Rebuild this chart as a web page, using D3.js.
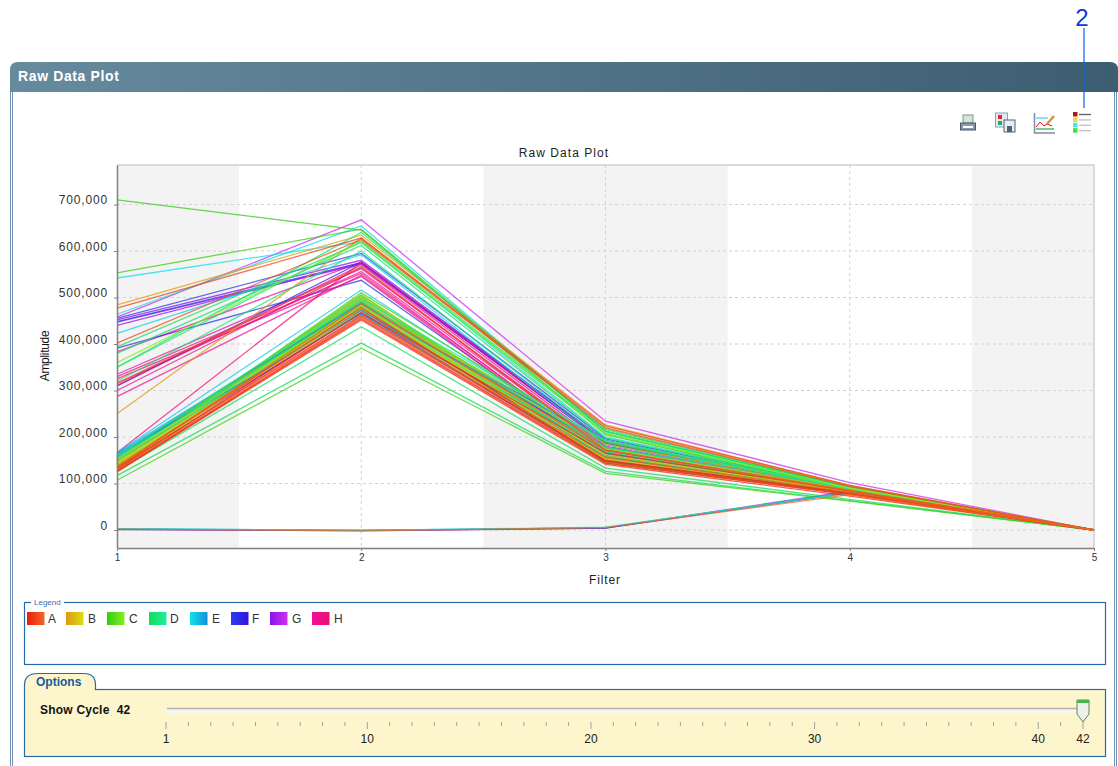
<!DOCTYPE html>
<html>
<head>
<meta charset="utf-8">
<script src="https://cdn.jsdelivr.net/npm/d3@7"></script>
<style>
  body { margin: 0; background: #fff; }
  svg { display: block; }
  text { font-family: "Liberation Sans", Arial, sans-serif; }
</style>
</head>
<body>
<div id="chart"></div>
<script>
// Amplitude per well, in thousands. One line per well: filters 1 to 5
const filters = [1, 2, 3, 4, 5];
const yTicks = [0, 100000, 200000, 300000, 400000, 500000, 600000, 700000];
const cycleTicks = [1, 10, 20, 30, 40, 42];
const cycleCount = 42;

const wellsA = [
  [133,462,150,80,0],[128,455,144,76,0],[126,452,141,73,0],[131,468,166,84,0],
  [136,478,148,78,0],[125,458,146,77,-1],[477,628,224,96,0],[402,625,220,94,0],
  [316,566,172,84,0],[129,460,156,81,0],[134,486,172,86,0],[2,-2,5,76,0]
];
const wellsB = [
  [250,628,218,93,0],[484,634,226,96,0],[140,505,158,85,0],[143,500,150,81,0],
  [137,496,178,88,0],[146,492,146,79,0],[134,488,168,86,0],[148,486,184,90,0],
  [141,482,154,83,0],[152,478,174,87,0],[136,476,162,84,0],[145,470,152,81,0]
];
const wellsC = [
  [710,645,205,88,0],[553,647,212,92,0],[107,391,122,62,0],[142,510,188,91,0],
  [147,506,164,85,0],[150,502,156,83,0],[138,498,176,87,0],[155,494,148,80,0],
  [144,488,192,90,0],[132,480,144,78,0],[152,484,160,84,0],[360,620,208,90,0]
];
const wellsD = [
  [117,402,126,63,0],[126,437,133,66,0],[394,618,208,90,0],[380,612,198,90,0],
  [350,640,216,93,0],[350,622,212,91,0],[320,600,190,87,0],[150,490,178,85,0],
  [156,484,152,81,0],[145,478,168,84,0],[160,496,192,88,0],[3,-1,6,80,0]
];
const wellsE = [
  [542,620,200,90,0],[464,654,212,92,0],[423,592,184,85,0],[166,516,176,85,0],
  [163,478,168,83,0],[160,472,152,81,0],[158,468,178,85,0],[155,482,158,82,0],
  [150,476,192,88,0],[165,488,164,84,0],[162,465,148,80,0],[3,-1,5,82,0]
];
const wellsF = [
  [455,595,196,88,0],[448,575,188,86,0],[391,537,166,80,0],[310,576,192,89,0],
  [150,475,172,84,0],[146,470,150,81,0],[155,480,160,83,0],[142,466,164,82,0],
  [158,486,176,85,0],[152,472,156,82,0],[160,490,184,87,0],[1,-1,4,80,0]
];
const wellsG = [
  [452,580,192,86,0],[447,572,188,85,0],[440,575,186,84,0],[150,488,174,85,0],
  [143,476,154,82,0],[148,482,180,86,0],[154,478,164,83,0],[139,470,150,80,0],
  [156,492,170,84,0],[147,474,160,82,0],[458,667,234,102,0],[2,-2,4,84,0]
];
const wellsH = [
  [383,576,186,86,0],[335,562,176,85,0],[315,556,172,84,0],[287,548,166,83,0],
  [310,570,180,85,0],[330,552,164,82,0],[325,545,160,81,0],[166,576,188,86,0],
  [300,565,170,84,0],[145,474,162,83,0],[150,480,156,82,0],[138,468,148,80,0]
];

const rowNames = ['A', 'B', 'C', 'D', 'E', 'F', 'G', 'H'];
const rowWells = [wellsA, wellsB, wellsC, wellsD, wellsE, wellsF, wellsG, wellsH];
// first and last shade of every row, the wells fade from one to the other
const rowStart = ['#ee1a10', '#dd9a12', '#30cc10', '#10dd55', '#12e0e8', '#2a3cf0', '#8a12ee', '#ee10a0'];
const rowEnd   = ['#ee6a22', '#dcdc14', '#88ee22', '#20eea0', '#1290dd', '#3414dc', '#d030ee', '#ee1068'];
// rows drawn together, later groups lie over earlier ones
const drawGroups = [[7, 6, 5], [4, 3, 2, 1], [0]];

const width = 1118, height = 766;
const margin = { top: 165, right: 24, bottom: 218, left: 117 };
const chartWidth = width - margin.left - margin.right;
const chartHeight = height - margin.top - margin.bottom;

const svg = d3.select("#chart").append("svg")
  .attr("width", width)
  .attr("height", height);

const defs = svg.append("defs");

function hGradient(id, from, to) {
  const g = defs.append("linearGradient").attr("id", id);
  g.append("stop").attr("offset", "0%").attr("stop-color", from);
  g.append("stop").attr("offset", "100%").attr("stop-color", to);
}

// the reference is a slightly soft screenshot
defs.append("filter").attr("id", "soft")
  .attr("filterUnits", "userSpaceOnUse")
  .attr("x", -10).attr("y", -10).attr("width", 1000).attr("height", 400)
  .append("feGaussianBlur").attr("stdDeviation", 0.3);

// ---- window frame ----
hGradient("headerFill", "#668a9e", "#3d5d71");
svg.append("path")
  .attr("d", "M10,92 V70 Q10,62 18,62 H1110 Q1118,62 1118,70 V92 Z")
  .attr("fill", "url(#headerFill)");
svg.append("text")
  .attr("x", 18).attr("y", 81)
  .attr("fill", "#fff")
  .attr("font-size", 14).attr("font-weight", "bold")
  .attr("letter-spacing", 0.62)
  .text("Raw Data Plot");

[10.5, 12.5, 1114.5, 1116.5].forEach(x => {
  svg.append("line")
    .attr("x1", x).attr("x2", x)
    .attr("y1", 92).attr("y2", height)
    .attr("stroke", "#6f8fb0");
});

// callout
svg.append("text")
  .attr("x", 1082).attr("y", 26)
  .attr("text-anchor", "middle")
  .attr("fill", "#1238d8")
  .attr("font-size", 24)
  .text("2");
svg.append("line")
  .attr("x1", 1084).attr("x2", 1084)
  .attr("y1", 28).attr("y2", 108)
  .attr("stroke", "#0a60e8").attr("stroke-width", 1.2);

// ---- toolbar icons ----
const printIcon = svg.append("g").attr("transform", "translate(960,114)");
printIcon.append("rect").attr("x", 3).attr("y", 1).attr("width", 10).attr("height", 8).attr("fill", "#d4e4d8").attr("stroke", "#7c9a90");
printIcon.append("rect").attr("x", 0.5).attr("y", 9).attr("width", 15).attr("height", 7).attr("fill", "#8c98ac").attr("stroke", "#4a5670");
printIcon.append("rect").attr("x", 3).attr("y", 12).attr("width", 10).attr("height", 2).attr("fill", "#fff");

const saveIcon = svg.append("g").attr("transform", "translate(995,112)");
saveIcon.append("rect").attr("x", 0.5).attr("y", 1).attr("width", 12).attr("height", 14).attr("fill", "#dfe8f4").attr("stroke", "#8aa0bc");
saveIcon.append("rect").attr("x", 3).attr("y", 3).attr("width", 4).attr("height", 4).attr("fill", "#ee2030");
saveIcon.append("rect").attr("x", 3).attr("y", 9).attr("width", 4).attr("height", 4).attr("fill", "#20b050");
saveIcon.append("rect").attr("x", 9).attr("y", 8).attr("width", 11).attr("height", 12).attr("fill", "#e8edf2").attr("stroke", "#53607a");
saveIcon.append("rect").attr("x", 12).attr("y", 14).attr("width", 5).attr("height", 6).attr("fill", "#53607a");

const chartIcon = svg.append("g").attr("transform", "translate(1034,113)");
chartIcon.append("path").attr("d", "M0.5,0 V20 H21").attr("fill", "none").attr("stroke", "#7c8ca8").attr("stroke-width", 1.5);
chartIcon.append("line").attr("x1", 2).attr("x2", 14).attr("y1", 5).attr("y2", 5).attr("stroke", "#70d0f0").attr("stroke-width", 1.5);
chartIcon.append("line").attr("x1", 2).attr("x2", 20).attr("y1", 16).attr("y2", 16).attr("stroke", "#20a840").attr("stroke-width", 1.2);
chartIcon.append("path").attr("d", "M2,14 L6,9 L10,13 L13,11 L18,13").attr("fill", "none").attr("stroke", "#ee1010");
chartIcon.append("line").attr("x1", 13).attr("x2", 20).attr("y1", 11).attr("y2", 3).attr("stroke", "#c89848").attr("stroke-width", 2.5);

const listIcon = svg.append("g").attr("transform", "translate(1073,112)");
['#b01818', '#e8d840', '#50e0e8', '#40e040'].forEach((c, i) => {
  listIcon.append("rect").attr("x", 0).attr("y", i * 5.4).attr("width", 4.5).attr("height", 4.5).attr("fill", c);
  listIcon.append("line").attr("x1", 6).attr("x2", 18)
    .attr("y1", i * 5.4 + 2.5).attr("y2", i * 5.4 + 2.5)
    .attr("stroke", i === 0 ? "#666" : "#c4c4c4").attr("stroke-width", 1.4);
});

// ---- plot ----
const xScale = d3.scaleLinear().domain([1, 5]).range([0, chartWidth]);
const yScale = d3.scaleLinear().domain([-38700, 785000]).range([chartHeight, 0]);

const chart = svg.append("g")
  .attr("transform", `translate(${margin.left},${margin.top})`);

// alternating filter bands
[[1, 1.5], [2.5, 3.5], [4.5, 5]].forEach(([a, b]) => {
  chart.append("rect")
    .attr("x", xScale(a))
    .attr("y", 0)
    .attr("width", xScale(b) - xScale(a))
    .attr("height", chartHeight)
    .attr("fill", "#f3f3f3");
});

// grid
chart.selectAll(".hgrid").data(yTicks).enter().append("line")
  .attr("x1", 0).attr("x2", chartWidth)
  .attr("y1", d => yScale(d)).attr("y2", d => yScale(d))
  .attr("stroke", "#d2d2d2").attr("stroke-dasharray", "3,3");
chart.selectAll(".vgrid").data(filters.slice(1, 4)).enter().append("line")
  .attr("x1", d => xScale(d)).attr("x2", d => xScale(d))
  .attr("y1", 0).attr("y2", chartHeight)
  .attr("stroke", "#d2d2d2").attr("stroke-dasharray", "3,3");

// plot border, top and right are the lighter ones
chart.append("path")
  .attr("d", `M0,0 H${chartWidth} V${chartHeight}`)
  .attr("fill", "none").attr("stroke", "#cfcfcf").attr("stroke-width", 1.5);

const line = d3.line()
  .x((d, i) => xScale(filters[i]))
  .y(d => yScale(d * 1000));

const wellLines = chart.append("g").attr("filter", "url(#soft)");

function drawWell(r, i) {
  const shade = d3.interpolateRgb(rowStart[r], rowEnd[r]);
  wellLines.append("path")
    .attr("d", line(rowWells[r][i]))
    .attr("fill", "none")
    .attr("stroke", shade(i / (rowWells[r].length - 1)))
    .attr("stroke-width", 1.3)
    .attr("stroke-opacity", 0.75);
}

drawGroups.forEach(group => {
  d3.range(12).forEach(i => {
    group.forEach(r => drawWell(r, i));
  });
});

// axes
const yAxis = chart.append("g")
  .call(d3.axisLeft(yScale).tickValues(yTicks).tickSize(3).tickSizeOuter(0).tickPadding(6).tickFormat(d3.format(",")));
const xAxis = chart.append("g")
  .attr("transform", `translate(0,${chartHeight})`)
  .call(d3.axisBottom(xScale).tickValues(filters).tickSize(3).tickSizeOuter(0).tickPadding(3).tickFormat(d3.format("d")));

yAxis.selectAll("text")
  .attr("dy", "-0.05em")
  .style("font-size", "12px").style("letter-spacing", "0.85px").attr("fill", "#333");
xAxis.selectAll("text")
  .style("font-size", "10px").attr("fill", "#333");
[yAxis, xAxis].forEach(a => {
  a.select(".domain").attr("stroke", "#808080").attr("stroke-width", 1.5);
  a.selectAll(".tick line").attr("stroke", "#808080");
});

svg.append("text")
  .attr("x", 564).attr("y", 157)
  .attr("text-anchor", "middle")
  .attr("font-size", 12).attr("letter-spacing", 1.05).attr("fill", "#222")
  .text("Raw Data Plot");
svg.append("text")
  .attr("x", 605).attr("y", 584)
  .attr("text-anchor", "middle")
  .attr("font-size", 12).attr("letter-spacing", 0.9).attr("fill", "#222")
  .text("Filter");
svg.append("text")
  .attr("transform", "translate(49,356) rotate(-90)")
  .attr("text-anchor", "middle")
  .attr("font-size", 12).attr("letter-spacing", -0.3).attr("fill", "#111")
  .text("Amplitude");

// ---- legend ----
svg.append("rect")
  .attr("x", 24.5).attr("y", 602.5).attr("width", 1081).attr("height", 62)
  .attr("fill", "#fff").attr("stroke", "#2a69a8").attr("stroke-width", 1.2);
svg.append("rect").attr("x", 31).attr("y", 598).attr("width", 33).attr("height", 8).attr("fill", "#fff");
svg.append("text")
  .attr("x", 34).attr("y", 605)
  .attr("font-size", 8).attr("fill", "#3a70b0")
  .text("Legend");

const swatchX = [27, 66, 107, 149, 190, 231, 270, 312];
const labelX = [48, 88, 129, 170, 212, 252, 292, 334];
rowNames.forEach((name, r) => {
  hGradient("row" + name, rowStart[r], rowEnd[r]);
  svg.append("rect")
    .attr("x", swatchX[r]).attr("y", 612)
    .attr("width", 17.5).attr("height", 13)
    .attr("fill", `url(#row${name})`);
  svg.append("text")
    .attr("x", labelX[r]).attr("y", 623)
    .attr("font-size", 12).attr("fill", "#333")
    .text(name);
});

// ---- options panel ----
svg.append("path")
  .attr("d", "M24.5,689.5 V685 Q24.5,673.5 38,673.5 H84 Q95.5,673.5 95.5,685 V689.5")
  .attr("fill", "#fdf6cd").attr("stroke", "#2a69a8").attr("stroke-width", 1.2);
svg.append("rect")
  .attr("x", 24.5).attr("y", 689.5).attr("width", 1081).attr("height", 67)
  .attr("fill", "#fdf6cd").attr("stroke", "#2a69a8").attr("stroke-width", 1.2);
svg.append("rect").attr("x", 25.2).attr("y", 687).attr("width", 69.6).attr("height", 4).attr("fill", "#fdf6cd");
svg.append("text")
  .attr("x", 36).attr("y", 686)
  .attr("font-size", 12).attr("font-weight", "bold").attr("fill", "#1a5a9a")
  .text("Options");
svg.append("text")
  .attr("x", 40).attr("y", 714)
  .attr("font-size", 12).attr("font-weight", "bold").attr("letter-spacing", 0.22).attr("fill", "#111")
  .attr("xml:space", "preserve")
  .text("Show Cycle  42");

const cycleScale = d3.scaleLinear().domain([1, cycleCount]).range([166, 1083]);

svg.append("rect")
  .attr("x", 166).attr("y", 708).attr("width", 917).attr("height", 6)
  .attr("rx", 2)
  .attr("fill", "#f8f6f0");
svg.append("line")
  .attr("x1", 167).attr("x2", 1083).attr("y1", 708.5).attr("y2", 708.5)
  .attr("stroke", "#b4b4ac").attr("stroke-width", 1.5);

svg.selectAll(".cycleTick").data(d3.range(1, cycleCount + 1)).enter().append("line")
  .attr("x1", d => cycleScale(d)).attr("x2", d => cycleScale(d))
  .attr("y1", 722)
  .attr("y2", d => cycleTicks.includes(d) ? 729 : 726)
  .attr("stroke", "#a0a0a0");
svg.selectAll(".cycleLabel").data(cycleTicks).enter().append("text")
  .attr("x", d => cycleScale(d)).attr("y", 743)
  .attr("text-anchor", "middle")
  .attr("font-size", 12).attr("fill", "#222")
  .text(d => d);

// slider thumb
const thumb = svg.append("g").attr("transform", `translate(${cycleScale(cycleCount)},0)`);
thumb.append("path")
  .attr("d", "M-6,700 H6 V714 L0,722 L-6,714 Z")
  .attr("fill", "#eef0ec").attr("stroke", "#5a8a60");
thumb.append("rect").attr("x", -6).attr("y", 700).attr("width", 12).attr("height", 3).attr("fill", "#44b84c");
</script>
</body>
</html>
